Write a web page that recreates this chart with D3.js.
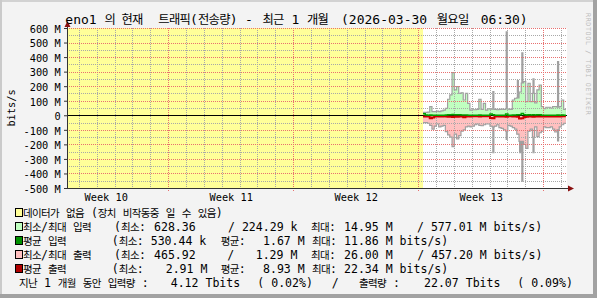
<!DOCTYPE html>
<html><head><meta charset="utf-8">
<script src="https://cdn.jsdelivr.net/npm/d3@7/dist/d3.min.js"></script>
<style>html,body{margin:0;padding:0;background:#f3f3f3;}svg{display:block;}</style>
</head><body>
<svg id="c" width="597" height="298"></svg>
<script>
// ---------------- DATA ----------------
const titleText = "eno1 의 현재 트래픽(전송량) - 최근 1 개월 (2026-03-30 월요일 06:30)";
const yAxisTitle = "bits/s";
const watermark = "RRDTOOL / TOBI OETIKER";
const yTickValuesM = [600, 500, 400, 300, 200, 100, 0, -100, -200, -300, -400, -500];
const yTickLabels = ["600 M", "500 M", "400 M", "300 M", "200 M", "100 M", "0", "-100 M", "-200 M", "-300 M", "-400 M", "-500 M"];
const weekLabels = ["Week 10", "Week 11", "Week 12", "Week 13"];
const weekStarts = ["2026-03-01", "2026-03-08", "2026-03-15", "2026-03-22"];
const graphStart = "2026-03-02T08:00";
const graphEnd = "2026-03-30T08:00";
const dataStart = "2026-03-22T06:30";   // before this: no data (yellow)
const stepHours = 3;

// input (bits/s, in M): filled area top, and max (spikes)
const inAreaM = [20,20,22,60,25,25,28,25,30,35, 48,110,140,293,175,197,150,155,105,150,
  82,36,38,38,40,110,40,82,35,45, 42,42,40,38,40,42,40,45,42,40,
  105,117,120,160,222,231,94,220,94,150, 85,174,208,60,45,55,55,50,60,60, 55,60,105,40];
const inMaxM = [20,20,22,60,25,25,28,25,30,35, 48,110,140,293,175,197,150,155,105,150,
  82,36,38,38,40,110,40,82,35,45, 42,167,40,38,40,42,40,577.01,42,40,
  105,117,243,160,433,231,94,220,94,254, 85,174,208,60,45,55,55,50,60,60, 373,60,105,40];
// output (negative)
const outAreaM = [-50,-50,-55,-70,-95,-75,-60,-80,-75,-70, -113,-135,-150,-216,-130,-163,-140,-110,-100,-80,
  -75,-80,-75,-65,-60,-70,-72,-65,-60,-60, -75,-80,-75,-65,-85,-90,-100,-110,-70,-75,
  -85,-95,-130,-180,-180,-200,-227,-110,-95,-150, -80,-147,-120,-110,-80,-85,-85,-80,-95,-115, -100,-80,-65,-55];
const outMaxM = [-50,-50,-55,-70,-95,-75,-60,-80,-75,-70, -113,-135,-150,-216,-130,-163,-140,-110,-100,-80,
  -75,-80,-75,-65,-60,-70,-72,-65,-60,-60, -75,-261,-75,-65,-85,-90,-100,-170,-70,-75,
  -85,-95,-130,-261,-457.2,-200,-227,-110,-95,-261, -80,-147,-120,-110,-80,-85,-85,-80,-95,-115, -181,-80,-65,-55];
// averages
const inAvgM = [10,2,1,2,1,1,1,1,1,1, 2,3,3,5,3,3,3,2,2,2, 1,1,1,1,1,2,1,1,1,1,
  8,3,1,1,1,1,1,9,1,1, 2,2,3,3,11.86,4,2,3,2,3, 2,3,3,1,1,1,1,1,1,1, 2,1,2,1];
const outAvgM = [-8,-8,-9,-20,-15,-8,-7,-8,-8,-7, -9,-10,-10,-12,-9,-10,-9,-8,-14,-8,
  -7,-8,-7,-7,-7,-8,-7,-7,-7,-7, -18,-20,-8,-7,-8,-8,-9,-10,-7,-7,
  -8,-9,-10,-22.34,-20,-12,-10,-9,-8,-10, -8,-9,-9,-8,-8,-8,-8,-8,-9,-9, -9,-8,-7,-7];

const legendLabels = ["데이터가 없음 (장치 비작동중 일 수 있음)", "최소/최대 입력", "평균 입력", "최소/최대 출력", "평균 출력"];
const legendStats = [
  [],
  ["(최소:", "628.36", "/ 224.29 k", "최대:", "14.95 M", "/ 577.01 M bits/s)"],
  ["(최소:", "530.44 k", "평균:", "1.67 M", "최대:", "11.86 M bits/s)"],
  ["(최소:", "465.92", "/", "1.29 M", "최대:", "26.00 M", "/ 457.20 M bits/s)"],
  ["(최소:", "2.91 M", "평균:", "8.93 M", "최대:", "22.34 M bits/s)"]
];
const totalLine = ["지난 1 개월 동안 입력량 :", "4.12 Tbits", "( 0.02%)", "/", "출력량 :", "22.07 Tbits", "( 0.09%)"];

// ---------------- LAYOUT / STYLE ----------------
const C = {
  bg: "#f3f3f3", canvas: "#ffffff", unknown: "#ffff99",
  inFill: "#c0ffc0", outFill: "#ffc0c0", maxGray: "#a0a0a0",
  inAvg: "#00a000", outAvg: "#cc0000", boxIn: "#009000", boxOut: "#b00000",
  grid: "#a8a8a8", mgrid: "#e87070", axis: "#333333", arrow: "#8a1010"
};
const legendColors = [C.unknown, C.inFill, C.boxIn, C.outFill, C.boxOut];
const PL = 67, PR = 567, PT = 28, PB = 188;
const legendBase = [217, 231, 245, 259, 273];
const totalBase = 287;
const legendStatX = [[], [114, 154, 228, 311, 344, 417], [111.7, 150.7, 220.7, 263, 312, 344],
  [114, 154, 227.3, 255.7, 311, 344, 417.3], [111.7, 165.7, 220.7, 263, 312, 344]];
const totalX = [19, 170.7, 257.3, 331.7, 359, 424, 517.3];
const titleX = [65.3, 104.5, 121.5, 158.3, 245, 262.5, 291.5, 307, 341, 436.7, 480.7];
const LEG = {a: 6.95, as: 11.55, h: 9.0, hs: 10.5};
const TIT = {a: 7.83, as: 13, h: 10.6, hs: 12.3};

const svg = d3.select("#c");
const W = 597, H = 298;
svg.append("rect").attr("width", W).attr("height", H).attr("fill", C.bg);
// 3D border
svg.append("rect").attr("x", 0).attr("y", 0).attr("width", W).attr("height", 2).attr("fill", "#d2d2d2");
svg.append("rect").attr("x", 0).attr("y", 0).attr("width", 2).attr("height", H).attr("fill", "#cacaca");
svg.append("rect").attr("x", W - 4).attr("y", 0).attr("width", 4).attr("height", H).attr("fill", "#a2a2a2");
svg.append("rect").attr("x", 0).attr("y", H - 4).attr("width", W).attr("height", 4).attr("fill", "#a2a2a2");

const parse = s => new Date(s);
const x = d3.scaleTime().domain([parse(graphStart), parse(graphEnd)]).range([PL, PR]);
const y = d3.scaleLinear().domain([-500e6, 600e6]).range([PB, PT]);

// canvas
svg.append("rect").attr("x", PL).attr("y", PT).attr("width", PR - PL).attr("height", PB - PT).attr("fill", C.canvas);
// unknown region
svg.append("rect").attr("x", x(parse(graphStart))).attr("y", y(600e6))
  .attr("width", x(parse(dataStart)) - x(parse(graphStart))).attr("height", y(-500e6) - y(600e6))
  .attr("fill", C.unknown);

// series
const t0 = parse(dataStart);
function series(arr) {
  const pts = arr.map((v, i) => ({t: d3.timeHour.offset(t0, i * stepHours), v: v * 1e6}));
  pts.push({t: d3.timeHour.offset(t0, arr.length * stepHours), v: arr[arr.length - 1] * 1e6});
  return pts;
}
const area = d3.area().curve(d3.curveStepAfter).x(d => x(d.t)).y0(y(0)).y1(d => y(d.v));
const line = d3.line().curve(d3.curveStepAfter).x(d => x(d.t)).y(d => y(d.v));

const g = svg.append("g");
g.append("path").attr("d", area(series(inMaxM))).attr("fill", C.maxGray);
g.append("path").attr("d", area(series(outMaxM))).attr("fill", C.maxGray);
g.append("path").attr("d", area(series(inAreaM))).attr("fill", C.inFill);
g.append("path").attr("d", area(series(outAreaM))).attr("fill", C.outFill);
g.append("path").attr("d", line(series(inAreaM))).attr("fill", "none").attr("stroke", C.maxGray).attr("stroke-width", 1.2);
g.append("path").attr("d", line(series(outAreaM))).attr("fill", "none").attr("stroke", C.maxGray).attr("stroke-width", 1.2);

// grid
const gg = svg.append("g");
const px = v => Math.round(v) + 0.5;
const minorY = d3.range(-450, 600, 50).filter(v => v % 100 !== 0);
const majorY = yTickValuesM.filter(v => v !== -500 && v !== 0);
const days = d3.timeDay.range(parse(graphStart), parse(graphEnd)).filter(d => d.getDay() !== 0);
const weeks = d3.timeWeek.range(parse(graphStart), parse(graphEnd));
gg.selectAll("line.hm").data(minorY).join("line").attr("class", "hm")
  .attr("x1", PL).attr("x2", PR).attr("y1", d => px(y(d * 1e6))).attr("y2", d => px(y(d * 1e6)))
  .attr("stroke", C.grid).attr("stroke-dasharray", "1,1");
gg.selectAll("line.vm").data(days).join("line").attr("class", "vm")
  .attr("y1", PT).attr("y2", PB).attr("x1", d => px(x(d))).attr("x2", d => px(x(d)))
  .attr("stroke", C.grid).attr("stroke-dasharray", "1,1");
gg.selectAll("line.hM").data(majorY).join("line").attr("class", "hM")
  .attr("x1", PL).attr("x2", PR).attr("y1", d => px(y(d * 1e6))).attr("y2", d => px(y(d * 1e6)))
  .attr("stroke", C.mgrid).attr("stroke-dasharray", "1,1");
gg.selectAll("line.vM").data(weeks).join("line").attr("class", "vM")
  .attr("y1", PT).attr("y2", PB + 3).attr("x1", d => px(x(d))).attr("x2", d => px(x(d)))
  .attr("stroke", C.mgrid).attr("stroke-dasharray", "1,1");

// zero line
svg.append("line").attr("x1", PL).attr("x2", PR).attr("y1", px(y(0))).attr("y2", px(y(0)))
  .attr("stroke", "#000");
// averages
svg.append("path").attr("d", line(series(outAvgM))).attr("fill", "none").attr("stroke", C.outAvg).attr("stroke-width", 2);
svg.append("path").attr("d", line(series(inAvgM))).attr("fill", "none").attr("stroke", C.inAvg).attr("stroke-width", 1.5);

// axes
const yAxis = d3.axisLeft(y).tickValues(yTickValuesM.map(v => v * 1e6))
  .tickFormat((d, i) => yTickLabels[i]).tickSize(3).tickSizeOuter(0).tickPadding(3.3);
const ya = svg.append("g").attr("transform", `translate(${PL},0)`).call(yAxis);
ya.select(".domain").remove();
ya.selectAll("line").attr("stroke", C.axis);
ya.selectAll("text").attr("font-family", "'DejaVu Sans Mono'").attr("font-size", 10.3).attr("fill", "#000").attr("dy", "0.42em");

const weekCenters = weekStarts.map(s => d3.timeHour.offset(parse(s + "T00:00"), 84));
const xAxis = d3.axisBottom(x).tickValues(weekCenters).tickFormat((d, i) => weekLabels[i]).tickSize(0).tickPadding(5.7);
const xa = svg.append("g").attr("transform", `translate(0,${PB})`).call(xAxis);
xa.select(".domain").remove();
xa.selectAll("text").attr("font-family", "'DejaVu Sans Mono'").attr("font-size", 10.3).attr("fill", "#000");

svg.append("line").attr("x1", PL - 0.5).attr("x2", PR + 1).attr("y1", PB + 0.5).attr("y2", PB + 0.5).attr("stroke", C.axis);
svg.append("line").attr("x1", PL + 0.5).attr("x2", PL + 0.5).attr("y1", PB + 1).attr("y2", PT - 3).attr("stroke", C.axis);
svg.append("path").attr("d", `M${PL + 0.5},${PT - 7} L${PL - 2.5},${PT - 1} L${PL + 3.5},${PT - 1} Z`).attr("fill", C.arrow);
svg.append("path").attr("d", `M${PR + 7},${PB + 0.5} L${PR + 1},${PB - 2.5} L${PR + 1},${PB + 3.5} Z`).attr("fill", C.arrow);

// y-axis title
svg.append("text").attr("transform", `translate(15,${(PT + PB) / 2}) rotate(-90)`).attr("text-anchor", "middle")
  .attr("font-family", "'DejaVu Sans Mono'").attr("font-size", 10.3).attr("fill", "#000").text(yAxisTitle);
// watermark
svg.append("text").attr("transform", "translate(586,13) rotate(90)")
  .attr("font-family", "'DejaVu Sans Mono'").attr("font-size", 6.6).attr("letter-spacing", 0.68)
  .attr("fill", "#bcbcbc").text(watermark);

// per-character layout (monospace ASCII + narrower Hangul)
const isHangul = ch => /[\u1100-\u11FF\u3130-\u318F\uAC00-\uD7AF]/.test(ch);
function drawRun(parent, str, x0, base, o) {
  let cx = x0;
  for (const ch of Array.from(str)) {
    const h = isHangul(ch);
    if (ch !== " ") {
      parent.append("text").attr("x", cx).attr("y", base)
        .attr("font-family", h ? "'Noto Sans CJK KR'" : "'DejaVu Sans Mono'")
        .attr("font-size", h ? o.hs : o.as).attr("fill", "#000").text(ch);
    }
    cx += h ? o.h : o.a;
  }
}
const tg = svg.append("g");
titleText.split(/\s+/).forEach((tok, i) => drawRun(tg, tok, titleX[i], 23.5, TIT));

const lg = svg.append("g");
legendLabels.forEach((lab, i) => {
  lg.append("rect").attr("x", 15.5).attr("y", legendBase[i] - 8.5).attr("width", 7).attr("height", 8)
    .attr("fill", legendColors[i]).attr("stroke", "#000").attr("stroke-width", 1);
  drawRun(lg, lab, 23, legendBase[i], LEG);
  legendStats[i].forEach((s, j) => drawRun(lg, s, legendStatX[i][j], legendBase[i], LEG));
});
totalLine.forEach((s, j) => drawRun(lg, s, totalX[j], totalBase, LEG));
</script>
</body></html>
